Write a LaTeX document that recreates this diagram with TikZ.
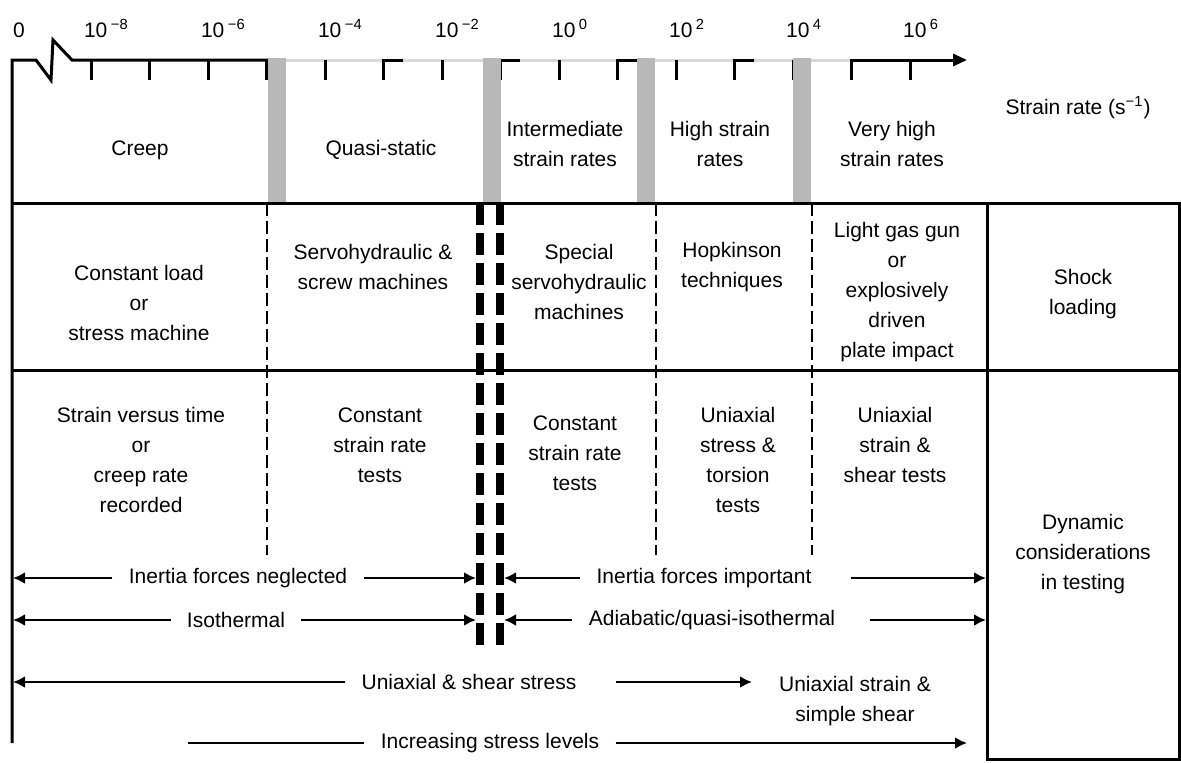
\documentclass[tikz,border=0pt]{standalone}
\usepackage{fontspec}
\setmainfont{Liberation Sans}
\usetikzlibrary{arrows.meta}

\begin{document}
\begin{tikzpicture}[x=0.5pt, y=-0.5pt, >={Latex[length=6pt,width=6pt]},
    every node/.style={font=\fontsize{10.5}{15}\selectfont},
    txt/.style={align=center, inner sep=0pt},
    lbl/.style={inner xsep=8pt, inner ysep=0pt},
    rule/.style={line width=1.5pt},
    arr/.style={line width=1.4pt},
    thindash/.style={line width=1pt, dash pattern=on 6.5pt off 2.5pt},
    thickdash/.style={line width=4pt, dash pattern=on 11pt off 4pt},
    band/.style={fill=black!28}]
    \useasboundingbox (0,0) rectangle (1181,762);

    % strain rate axis
    \draw[line width=1.5pt, black!15] (285,60) -- (851,60);
    \foreach \i in {0,...,14}
        \draw[rule] (91+58.5*\i,60) -- ++(0,20);
    \foreach \s in {383.5,500.5,617.5,734.5}
        \draw[rule] (\s,80) -- (\s,60) -- ++(19,0);
    \draw[rule] (12,743) -- (12,60) -- (36,60) -- (51,80) -- (53,40) -- (72,60) -- (285,60);
    \draw[rule, -{Triangle[length=7pt,width=6pt]}] (851.5,80) -- (851.5,60) -- (967,60);
    \foreach \b in {268,483,637,793}
        \fill[band] (\b,58) rectangle ++(18,145);

    \node[anchor=base] (p0) at (19,37) {0};
    \foreach \e [count=\k from 1] in {−8,−6,−4,−2,0,2,4,6}
        \node[anchor=base west] (p\k) at (91+117*\k-117-14,37) {10\,\textsuperscript{\e}};
    \node[txt] (srate) at (1078,108) {Strain rate (s\textsuperscript{−1})};

    % table
    \draw[rule] (12,203) -- (1179,203);
    \draw[rule] (12,370) -- (1179,370);
    \draw[rule] (987,203) rectangle (1179,759);
    \foreach \x in {267,656,812}
        \draw[thindash] (\x,203) -- (\x,555);
    \foreach \x in {480,500}
        \draw[thickdash] (\x,203) -- (\x,650);

    % regimes
    \node[txt] (creep) at (140,150) {Creep};
    \node[txt] (quasi) at (381,150) {Quasi-static};
    \node[txt] (inter) at (565,144) {Intermediate\\strain rates};
    \node[txt] (high) at (720,144) {High strain\\rates};
    \node[txt] (vhigh) at (892,144) {Very high\\strain rates};

    % machines
    \node[txt] (cload) at (139,303) {Constant load\\or\\stress machine};
    \node[txt] (servo) at (373,267) {Servohydraulic \&\\screw machines};
    \node[txt] (special) at (579,282) {Special\\servohydraulic\\machines};
    \node[txt] (hopk) at (732,267) {Hopkinson\\techniques};
    \node[txt] (gas) at (897,292) {Light gas gun\\or\\explosively\\driven\\plate impact};
    \node[txt] (shock) at (1083,294) {Shock\\loading};

    % tests
    \node[txt] (svt) at (141,460) {Strain versus time\\or\\creep rate\\recorded};
    \node[txt] (csr1) at (380,445) {Constant\\strain rate\\tests};
    \node[txt] (csr2) at (575,453) {Constant\\strain rate\\tests};
    \node[txt] (uni1) at (738,460) {Uniaxial\\stress \&\\torsion\\tests};
    \node[txt] (uni2) at (895,445) {Uniaxial\\strain \&\\shear tests};
    \node[txt] (dyn) at (1083,554) {Dynamic\\considerations\\in testing};

    % considerations
    \coordinate (negL) at (13,578);
    \coordinate (negR) at (476,578);
    \coordinate (impL) at (504,578);
    \coordinate (impR) at (986,578);
    \coordinate (isoL) at (13,620);
    \coordinate (isoR) at (476,620);
    \coordinate (adiL) at (504,620);
    \coordinate (adiR) at (986,620);
    \coordinate (uasL) at (13,682);
    \coordinate (uasR) at (752,682);
    \coordinate (incL) at (188,743);
    \coordinate (incR) at (967,743);

    \node[lbl] (neg) at (238,578) {Inertia forces neglected};
    \node[lbl] (imp) at (704,578) {Inertia forces important};
    \node[lbl] (iso) at (236,620) {Isothermal};
    \node[lbl] (adi) at (712,620) {Adiabatic/quasi-isothermal};
    \node[lbl] (uas) at (469,682) {Uniaxial \& shear stress};
    \node[txt] (uss) at (855,701) {Uniaxial strain \&\\simple shear};
    \node[lbl] (inc) at (490,743) {Increasing stress levels};

    \draw[arr,->] (neg) -- (negL);
    \draw[arr,->] (neg) -- (negR);
    \draw[arr,->] (imp) -- (impL);
    \draw[arr,->,shorten <=11.5pt] (imp) -- (impR);
    \draw[arr,->] (iso) -- (isoL);
    \draw[arr,->] (iso) -- (isoR);
    \draw[arr,->] (adi) -- (adiL);
    \draw[arr,->,shorten <=9pt] (adi) -- (adiR);
    \draw[arr,->] (uas) -- (uasL);
    \draw[arr,->,shorten <=11.5pt] (uas) -- (uasR);
    \draw[arr] (incL) -- (inc);
    \draw[arr,->] (inc) -- (incR);
\end{tikzpicture}
\end{document}
